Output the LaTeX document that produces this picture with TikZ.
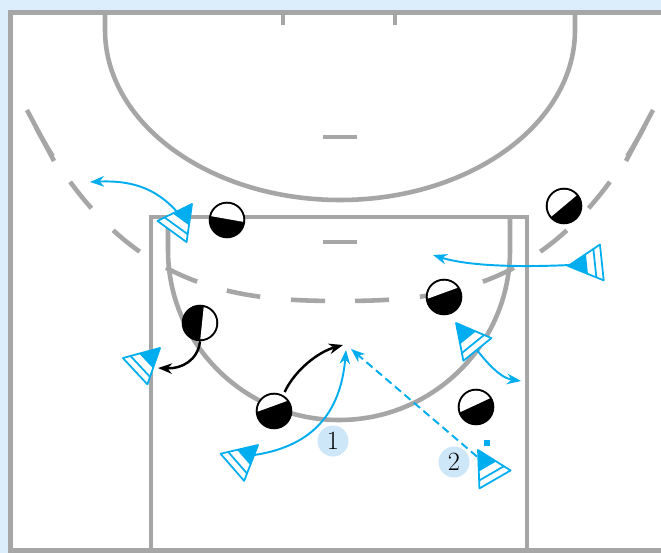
\documentclass[tikz,border=0pt]{standalone}
\usetikzlibrary{arrows.meta}

\definecolor{courtgray}{RGB}{166,166,166}
\definecolor{playcyan}{RGB}{0,174,239}
\definecolor{badgeblue}{RGB}{206,231,248}
\definecolor{edgeblue}{RGB}{220,238,251}

\pgfdeclarelayer{background}
\pgfsetlayers{background,main}

\tikzset{
  court/.style={draw=courtgray, line width=2.6pt},
  run/.style={draw=playcyan, line width=1.1pt, -{Stealth[length=8pt, width=6pt]}},
  pass/.style={run, dash pattern=on 1.6mm off 0.9mm},
  move/.style={draw=black, line width=1.4pt, -{Stealth[length=8pt, width=6pt]}},
  badge/.style={circle, fill=badgeblue, minimum size=0.62cm, inner sep=0pt, font=\fontsize{15}{15}\selectfont},
  player/.style={circle, draw=black, line width=0.9pt, fill=black, minimum size=0.7cm, inner sep=0pt},
  cone/.style={draw=playcyan, line width=1pt, line join=round},
}

% cone marker: name of its centre, apex, turn
\newcommand{\drawcone}[3]{%
  \begin{scope}[shift={(#2)}, rotate=#3]
    \coordinate (#1) at (-17,0);
    \draw[cone, fill=white] (0,0) -- (-34,-18) -- (-34,18) -- cycle;
    \fill[playcyan] (0,0) -- (-19,-10) -- (-19,10) -- cycle;
    \draw[cone] (-27,-14.3) -- (-27,14.3);
  \end{scope}}

% player: name, centre, turn of the white part, offset of its edge
\newcommand{\drawplayer}[4]{%
  \node[player] (#1) at (#2) {};
  \begin{scope}[shift={(#2)}, rotate=#3]
    \clip (0,0) circle[radius=16.3];
    \fill[white] (-20,-20) rectangle (20,#4);
  \end{scope}}

\begin{document}
\begin{tikzpicture}[x=0.02cm, y=-0.02cm]
    \useasboundingbox (0,0) rectangle (661,553);

    % ==================== cones ====================
    \drawcone{t1}{192,204}{54}
    \drawcone{t2}{160,348}{43}
    \drawcone{t3}{258,445}{41}
    \drawcone{t4}{478,450}{120}
    \drawcone{t5}{568,266}{-174}
    \drawcone{t6}{456,323}{129}
    \fill[playcyan] (484,440) rectangle (490,446);

    % ==================== players ====================
    \drawplayer{p1}{227,220}{-10}{-1}
    \drawplayer{p2}{200,323}{-96}{-2}
    \drawplayer{p3}{564,206}{40}{0}
    \drawplayer{p4}{444,297}{20}{-4}
    \drawplayer{p5}{274,411}{20}{-5}
    \drawplayer{p6}{476,407}{25}{-2}

    % ==================== numbers ====================
    \node[badge] (n1) at (333,441) {1};
    \node[badge] (n2) at (454,462) {2};

    \begin{pgfonlayer}{background}
        % ==================== court ====================
        \fill[edgeblue] (0,0) rectangle (661,553);
        \draw[court, fill=white] (10.5,12.5) rectangle (700,550.5);
        % lane
        \draw[court] (151,550.5) -- (151,217) -- (527,217) -- (527,550.5);
        \draw[court] (168,217) -- (168,250) arc[start angle=180, end angle=0, x radius=171, y radius=170] -- (510,217);
        % half circle at the top
        \draw[court] (105,12.5) -- (105,30) arc[start angle=180, end angle=0, x radius=235, y radius=170] -- (575,12.5);
        \draw[court] (283,12.5) -- (283,25) (395,12.5) -- (395,25);
        \draw[court] (323,137) -- (357,137) (323,242) -- (357,242);
        % dashed arc
        \draw[court, dash pattern=on 0.68cm off 0.62cm, dash phase=1cm] (340,301) .. controls (230,301) and (116,289) .. (27,110);
        \draw[court, dash pattern=on 0.68cm off 0.62cm, dash phase=1cm] (340,301) .. controls (450,301) and (564,289) .. (653,110);
        \draw[court] (27,110) -- (54,161) (653,110) -- (626,161);

        % ==================== moves ====================
        \coordinate (e1) at (90,182);
        \coordinate (e2) at (158,368);
        \coordinate (e3) at (343,345);
        \coordinate (e4) at (346,350);
        \coordinate (e5) at (351,349);
        \coordinate (e6) at (433,255);
        \coordinate (e7) at (521,381);

        \draw[run] (t1) .. controls (160,190) and (135,180) .. (e1);
        \draw[move] (p2.south) .. controls (198,360) and (182,369) .. (e2);
        \draw[move, shorten <=2pt] (p5.60) .. controls (295,370) and (318,352) .. (e3);
        \draw[run] (t3) .. controls (305,450) and (340,420) .. (e4);
        \draw[pass] (t4) -- (e5);
        \draw[run] (t5) .. controls (520,268) and (468,266) .. (e6);
        \draw[run] (t6) .. controls (485,362) and (500,378) .. (e7);
    \end{pgfonlayer}

\end{tikzpicture}
\end{document}
